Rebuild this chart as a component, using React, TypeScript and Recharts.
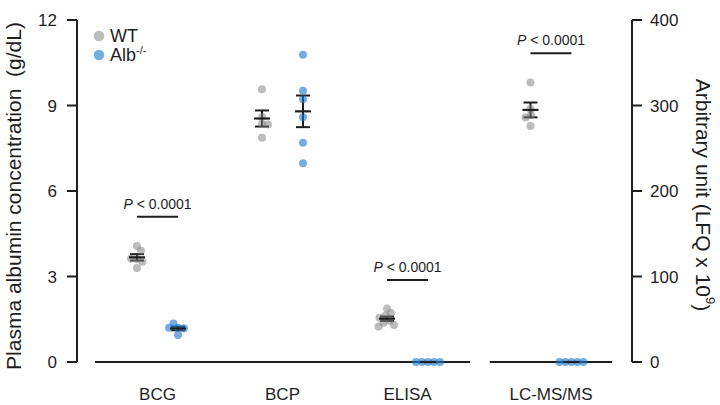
import React from 'react';
import {
  ScatterChart,
  Scatter,
  XAxis,
  YAxis,
  ErrorBar,
  ReferenceLine,
  Customized,
} from 'recharts';

// ---------- data ----------
const categories = ['BCG', 'BCP', 'ELISA', 'LC-MS/MS'];
const leftTicks = [0, 3, 6, 9, 12];
const rightTicks = [0, 100, 200, 300, 400];

// g/dL (left axis)
const wtBCG = [4.07, 3.9, 3.61, 3.52, 3.63, 3.3];
const albBCG = [1.2, 1.18, 1.35, 0.95, 1.2];
const wtBCP = [9.57, 8.6, 8.35, 8.33, 7.87];
const albBCP = [10.78, 9.52, 9.22, 8.59, 7.69, 6.97];
const wtELISA = [1.88, 1.72, 1.62, 1.55, 1.45, 1.38, 1.3, 1.25];
const albELISA = [0, 0, 0, 0, 0];
// LFQ x 10^9 (right axis)
const wtLCMS = [327, 296, 289, 286, 276];
const albLCMS = [0, 0, 0, 0, 0];

// significance brackets: [group index, height in axis units, axis]
const pBrackets: [number, number, 'left' | 'right'][] = [
  [0, 5.1, 'left'],
  [2, 2.88, 'left'],
  [3, 361, 'right'],
];
const pText = '0.0001';

// ---------- layout ----------
const W = 720;
const H = 405;
const PLOT_LEFT = 77;
const PLOT_RIGHT = 632;
const PLOT_TOP = 20;
const PLOT_BOTTOM = 362;
const GROUP_POS = [1, 2, 3, 4.148];
const DODGE = 0.164;
const X_DOMAIN: [number, number] = [0.356, 4.796];
const PX_PER_X = (PLOT_RIGHT - PLOT_LEFT) / (X_DOMAIN[1] - X_DOMAIN[0]);
const PX_PER_LEFT = (PLOT_BOTTOM - PLOT_TOP) / 12;
const PX_PER_RIGHT = (PLOT_BOTTOM - PLOT_TOP) / 400;
const DOT_R = 4;
const SWARM_D = 6;

const GREY = '#7a7a7a';
const GREY_OP = 0.5;
const BLUE = '#1a75c9';
const BLUE_OP = 0.6;
const INK = '#1e1e1e';
const FONT = '"Liberation Sans", Arial, Helvetica, sans-serif';

// simple beeswarm: horizontal pixel offsets so that dots do not overlap
function swarm(values: number[], pxPerY: number): number[] {
  const placed: { dx: number; y: number }[] = [];
  const out: number[] = [];
  for (const v of values) {
    const y = v * pxPerY;
    let k = 0;
    let dx = 0;
    for (;;) {
      const cand = k === 0 ? 0 : (k % 2 === 1 ? 1 : -1) * Math.ceil(k / 2) * 0.5;
      const ok = placed.every(
        (p) => (p.dx - cand) ** 2 + (p.y - y) ** 2 >= SWARM_D * SWARM_D
      );
      if (ok) {
        dx = cand;
        break;
      }
      k++;
    }
    placed.push({ dx, y });
    out.push(dx);
  }
  return out;
}

function points(values: number[], groupIdx: number, side: -1 | 1, pxPerY: number) {
  const offs = swarm(values, pxPerY);
  const cx = GROUP_POS[groupIdx] + side * DODGE;
  return values.map((v, i) => ({ x: cx + offs[i] / PX_PER_X, y: v }));
}

function meanSem(values: number[]) {
  const n = values.length;
  const m = values.reduce((a, b) => a + b, 0) / n;
  const sd = Math.sqrt(values.reduce((a, b) => a + (b - m) ** 2, 0) / (n - 1));
  return { m, sem: sd / Math.sqrt(n) };
}

function meanPoint(values: number[], groupIdx: number, side: -1 | 1) {
  const { m, sem } = meanSem(values);
  return { x: GROUP_POS[groupIdx] + side * DODGE, y: m, sem };
}

const wtLeftPts = [
  ...points(wtBCG, 0, -1, PX_PER_LEFT),
  ...points(wtBCP, 1, -1, PX_PER_LEFT),
  ...points(wtELISA, 2, -1, PX_PER_LEFT),
];
const albLeftPts = [
  ...points(albBCG, 0, 1, PX_PER_LEFT),
  ...points(albBCP, 1, 1, PX_PER_LEFT),
  ...points(albELISA, 2, 1, PX_PER_LEFT),
];
const wtRightPts = points(wtLCMS, 3, -1, PX_PER_RIGHT);
const albRightPts = points(albLCMS, 3, 1, PX_PER_RIGHT);

const meansLeft = [
  meanPoint(wtBCG, 0, -1),
  meanPoint(albBCG, 0, 1),
  meanPoint(wtBCP, 1, -1),
  meanPoint(albBCP, 1, 1),
  meanPoint(wtELISA, 2, -1),
  meanPoint(albELISA, 2, 1),
];
const meansRight = [meanPoint(wtLCMS, 3, -1), meanPoint(albLCMS, 3, 1)];

const Dot = (color: string, op: number) => (p: any) =>
  <circle cx={p.cx} cy={p.cy} r={DOT_R} fill={color} fillOpacity={op} />;

const MeanLine = (p: any) => (
  <line x1={p.cx - 8} x2={p.cx + 8} y1={p.cy} y2={p.cy} stroke={INK} strokeWidth={2.2} />
);

const CategoryTick = (p: any) => {
  const idx = GROUP_POS.indexOf(p.payload.value);
  return (
    <text x={p.x} y={PLOT_BOTTOM + 38} textAnchor="middle" fontSize={17} fill={INK} fontFamily={FONT}>
      {categories[idx]}
    </text>
  );
};

const PLabel = (props: any) => {
  const vb = props.viewBox || {};
  const x = (vb.x ?? 0) + (vb.width ?? 0) / 2;
  const y = (vb.y ?? 0) - 8;
  return (
    <text x={x} y={y} textAnchor="middle" fontSize={14} fill={INK} fontFamily={FONT}>
      <tspan fontStyle="italic">P</tspan>
      <tspan> {'<'} {pText}</tspan>
    </text>
  );
};

const Decorations = () => (
  <g fontFamily={FONT} fill={INK}>
    {/* legend */}
    <circle cx={99} cy={36} r={5.3} fill="#bdbdbd" />
    <text x={110} y={42} fontSize={18}>WT</text>
    <circle cx={99} cy={55} r={5.3} fill="#72b0e2" />
    <text x={110} y={61} fontSize={18}>
      Alb<tspan dy={-7} fontSize={11}>-/-</tspan>
    </text>
    {/* axis titles */}
    <text
      x={13}
      y={196}
      transform="rotate(-90, 13, 196)"
      textAnchor="middle"
      dominantBaseline="central"
      fontSize={21}
    >
      Plasma albumin concentration {'\u00a0'}(g/dL)
    </text>
    <text
      x={703}
      y={195}
      transform="rotate(90, 703, 195)"
      textAnchor="middle"
      dominantBaseline="central"
      fontSize={21}
    >
      Arbitrary unit (LFQ x 10<tspan dy={-8} fontSize={13}>9</tspan>
      <tspan dy={8}>)</tspan>
    </text>
  </g>
);

export default function App() {
  return (
    <div style={{ position: 'absolute', left: 0, top: 0, width: W, height: H, background: '#fff', fontFamily: FONT }}>
      <ScatterChart width={W} height={H} margin={{ top: PLOT_TOP, right: 0, bottom: 0, left: 0 }}>
        <XAxis
          type="number"
          dataKey="x"
          domain={X_DOMAIN}
          ticks={GROUP_POS}
          axisLine={false}
          tickLine={false}
          height={H - PLOT_BOTTOM}
          tick={CategoryTick}
          interval={0}
          allowDataOverflow
        />
        <YAxis
          yAxisId="left"
          type="number"
          dataKey="y"
          domain={[0, 12]}
          ticks={leftTicks}
          width={PLOT_LEFT}
          tickSize={10}
          tickMargin={10}
          axisLine={{ stroke: INK, strokeWidth: 2 }}
          tickLine={{ stroke: INK, strokeWidth: 2 }}
          tick={{ fill: INK, fontSize: 17 }}
          interval={0}
        />
        <YAxis
          yAxisId="right"
          orientation="right"
          type="number"
          dataKey="y"
          domain={[0, 400]}
          ticks={rightTicks}
          width={W - PLOT_RIGHT}
          tickSize={10}
          tickMargin={8}
          axisLine={{ stroke: INK, strokeWidth: 2 }}
          tickLine={{ stroke: INK, strokeWidth: 2 }}
          tick={{ fill: INK, fontSize: 17 }}
          interval={0}
        />
        {/* broken x baselines */}
        <ReferenceLine
          yAxisId="left"
          segment={[{ x: 0.5, y: 0 }, { x: 3.5, y: 0 }]}
          stroke={INK}
          strokeWidth={2}
        />
        <ReferenceLine
          yAxisId="right"
          segment={[{ x: GROUP_POS[3] - 0.49, y: 0 }, { x: GROUP_POS[3] + 0.49, y: 0 }]}
          stroke={INK}
          strokeWidth={2}
        />
        {pBrackets.map(([g, h, ax]) => (
          <ReferenceLine
            key={g}
            yAxisId={ax}
            segment={[{ x: GROUP_POS[g] - DODGE, y: h }, { x: GROUP_POS[g] + DODGE, y: h }]}
            stroke={INK}
            strokeWidth={2}
            label={PLabel}
          />
        ))}
        <Scatter yAxisId="left" data={wtLeftPts} shape={Dot(GREY, GREY_OP)} isAnimationActive={false} />
        <Scatter yAxisId="left" data={albLeftPts} shape={Dot(BLUE, BLUE_OP)} isAnimationActive={false} />
        <Scatter yAxisId="right" data={wtRightPts} shape={Dot(GREY, GREY_OP)} isAnimationActive={false} />
        <Scatter yAxisId="right" data={albRightPts} shape={Dot(BLUE, BLUE_OP)} isAnimationActive={false} />
        <Scatter yAxisId="left" data={meansLeft} shape={MeanLine} isAnimationActive={false}>
          <ErrorBar dataKey="sem" direction="y" width={7} stroke={INK} strokeWidth={2} isAnimationActive={false} />
        </Scatter>
        <Scatter yAxisId="right" data={meansRight} shape={MeanLine} isAnimationActive={false}>
          <ErrorBar dataKey="sem" direction="y" width={7} stroke={INK} strokeWidth={2} isAnimationActive={false} />
        </Scatter>
        <Customized component={Decorations} />
      </ScatterChart>
    </div>
  );
}
